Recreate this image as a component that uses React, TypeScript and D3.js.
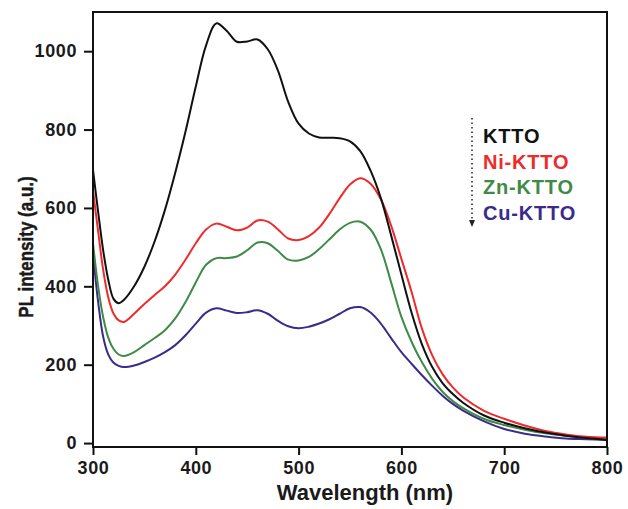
import React, { useEffect, useRef } from 'react';
import * as d3 from 'd3';

// wavelength grid (nm)
const wavelengths = [300, 305, 310, 315, 320, 325, 330, 340, 350, 360, 370, 380, 390, 400, 410, 420, 430, 440, 450, 460, 470, 480, 490, 500, 510, 520, 530, 540, 550, 560, 570, 580, 590, 600, 610, 620, 630, 640, 650, 660, 680, 700, 720, 740, 760, 780, 800];

const kttoValues = [697, 590, 490, 415, 368, 357, 365, 400, 450, 515, 595, 690, 795, 910, 1015, 1071, 1052, 1024, 1025, 1030, 1005, 950, 870, 815, 790, 780, 779, 778, 770, 745, 695, 625, 530, 430, 332, 252, 194, 153, 125, 103, 71, 52, 38, 27, 19, 13, 8];
const niValues = [645, 540, 440, 370, 330, 313, 309, 330, 355, 378, 400, 430, 468, 510, 545, 560, 552, 543, 550, 568, 565, 545, 522, 518, 528, 550, 585, 625, 660, 676, 662, 622, 555, 470, 385, 292, 224, 176, 142, 117, 83, 62, 45, 31, 22, 16, 14];
const znValues = [510, 400, 320, 268, 240, 226, 222, 232, 250, 268, 288, 318, 360, 410, 455, 472, 472, 476, 492, 512, 510, 490, 468, 466, 475, 495, 520, 545, 562, 565, 545, 495, 410, 322, 258, 206, 164, 131, 107, 89, 62, 46, 34, 25, 19, 13, 10];
const cuValues = [485, 360, 270, 225, 205, 197, 194, 198, 207, 218, 232, 250, 275, 305, 333, 344, 338, 332, 334, 339, 330, 312, 298, 293, 297, 305, 316, 330, 344, 347, 333, 305, 268, 232, 202, 173, 146, 121, 100, 83, 56, 36, 24, 17, 12, 10, 8];

const seriesNames = ['KTTO', 'Ni-KTTO', 'Zn-KTTO', 'Cu-KTTO'];
const seriesColors = ['#111111', '#ee2a2a', '#3f8a47', '#3b2a8a'];

const xTicks = [300, 400, 500, 600, 700, 800];
const yTicks = [0, 200, 400, 600, 800, 1000];

const App = () => {
    const chartRef = useRef(null);

    useEffect(() => {
        const width = 628;
        const height = 509;
        const margin = { top: 12, right: 21, bottom: 62, left: 93 };
        const chartWidth = width - margin.left - margin.right;
        const chartHeight = height - margin.top - margin.bottom;

        const xScale = d3.scaleLinear().domain([300, 800]).range([0, chartWidth]);
        const yScale = d3.scaleLinear().domain([-10, 1100]).range([chartHeight, 0]);

        const svg = d3.select(chartRef.current)
            .append('svg')
            .attr('width', width)
            .attr('height', height)
            .style('position', 'absolute')
            .style('left', 0)
            .style('top', 0)
            .style('background', '#fff')
            .style('font-family', 'Arial, "Liberation Sans", sans-serif');

        const chart = svg.append('g')
            .attr('transform', `translate(${margin.left},${margin.top})`);

        const allSeries = [kttoValues, niValues, znValues, cuValues];

        const line = d3.line<number>()
            .x((d, i) => xScale(wavelengths[i]))
            .y((d) => yScale(d))
            .curve(d3.curveCatmullRom.alpha(0.5));

        chart.selectAll('.series')
            .data(allSeries.slice().reverse())
            .enter()
            .append('path')
            .attr('class', 'series')
            .attr('fill', 'none')
            .attr('stroke', (d, i) => seriesColors[3 - i])
            .attr('stroke-width', 2)
            .attr('d', (d) => line(d));

        // frame
        chart.append('rect')
            .attr('width', chartWidth)
            .attr('height', chartHeight)
            .attr('fill', 'none')
            .attr('stroke', '#111')
            .attr('stroke-width', 2);

        const xAxis = chart.append('g')
            .attr('transform', `translate(0, ${chartHeight})`)
            .call(d3.axisBottom(xScale).tickValues(xTicks).tickFormat(d3.format('d')).tickSize(8).tickPadding(6).tickSizeOuter(0));

        const yAxis = chart.append('g')
            .call(d3.axisLeft(yScale).tickValues(yTicks).tickFormat(d3.format('d')).tickSize(9).tickPadding(7).tickSizeOuter(0));

        [xAxis, yAxis].forEach((ax) => {
            ax.select('.domain').remove();
            ax.selectAll('line').attr('stroke', '#111').attr('stroke-width', 2);
            ax.selectAll('text')
                .attr('fill', '#1a1a1a')
                .style('font-size', '18px')
                .style('font-weight', 'bold')
                .style('letter-spacing', '0.6px')
                .style('font-family', 'Arial, "Liberation Sans", sans-serif');
        });

        svg.append('text')
            .attr('x', 365)
            .attr('y', 500)
            .attr('text-anchor', 'middle')
            .attr('fill', '#1a1a1a')
            .style('font-size', '22px')
            .style('font-weight', 'bold')
            .text('Wavelength (nm)');

        svg.append('text')
            .attr('transform', `translate(33, 247) scale(1.2, 1) rotate(-90)`)
            .attr('text-anchor', 'middle')
            .attr('fill', '#1a1a1a')
            .attr('stroke', '#1a1a1a')
            .attr('stroke-width', 0.4)
            .style('font-size', '17px')
            .style('font-weight', 'bold')
            .text('PL intensity (a.u.)');

        // legend with dotted arrow
        const legend = svg.append('g');
        legend.append('line')
            .attr('x1', 472).attr('y1', 118)
            .attr('x2', 472).attr('y2', 221)
            .attr('stroke', '#222')
            .attr('stroke-width', 1.5)
            .attr('stroke-dasharray', '1.5,3');
        legend.append('path')
            .attr('d', 'M469,220 L475,220 L472,227 Z')
            .attr('fill', '#222');

        legend.selectAll('text')
            .data(seriesNames)
            .enter()
            .append('text')
            .attr('x', 483)
            .attr('y', (d, i) => 143 + i * 25.7)
            .attr('fill', (d, i) => seriesColors[i])
            .style('font-size', '20px')
            .style('font-weight', 'bold')
            .style('letter-spacing', '0.8px')
            .text((d) => d);

        return () => {
            svg.remove();
        };
    }, []);

    return <div ref={chartRef}></div>;
};

export default App;
